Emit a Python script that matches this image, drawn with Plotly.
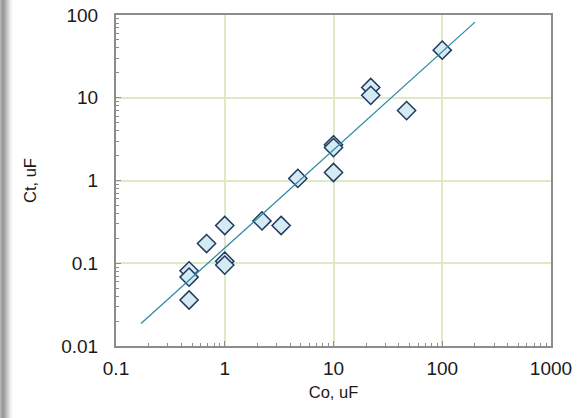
import numpy as np
import plotly.graph_objects as go

# Data
co_uF = [0.47, 0.47, 0.47, 0.68, 1.0, 1.0, 1.0, 2.2, 3.3, 4.7, 10, 10, 10, 22, 22, 47, 100]
ct_uF = [0.081, 0.068, 0.036, 0.173, 0.286, 0.106, 0.095, 0.325, 0.286, 1.06, 2.7, 2.5, 1.25, 13.3, 10.7, 7.0, 37.6]

# Power-law trendline Ct = a * Co^b, drawn over this Co span
trend_a = 0.153
trend_b = 1.186
trend_span = [0.17, 200]
tx = np.logspace(np.log10(trend_span[0]), np.log10(trend_span[1]), 60)
ty = trend_a * tx ** trend_b

x_ticks = [0.1, 1, 10, 100, 1000]
x_labels = ["0.1", "1", "10", "100", "1000"]
y_ticks = [0.01, 0.1, 1, 10, 100]
y_labels = ["0.01", "0.1", "1", "10", "100"]

def minor_vals(lo_exp, hi_exp):
    return [m * 10.0 ** e for e in range(lo_exp, hi_exp) for m in range(2, 10)]

fig = go.Figure()
fig.add_trace(go.Scatter(
    x=co_uF, y=ct_uF, mode="markers",
    marker=dict(symbol="diamond", size=14, color="#d6eaf3",
                line=dict(color="#1e3a5f", width=1.5)),
    showlegend=False, hoverinfo="skip"))
fig.add_trace(go.Scatter(
    x=tx, y=ty, mode="lines",
    line=dict(color="#2f8aa6", width=1.3),
    showlegend=False, hoverinfo="skip"))

tick_font = dict(family="Liberation Sans, Arial, sans-serif", size=19, color="#1a1a1a")
title_font = dict(family="Liberation Sans, Arial, sans-serif", size=16.5, color="#1a1a1a")
axis_common = dict(
    type="log", showline=True, linecolor="#8c8c8c", linewidth=2, mirror=True,
    showgrid=True, gridcolor="#dfe9c6", gridwidth=1.5, zeroline=False,
    ticks="inside", ticklen=5, tickcolor="#8c8c8c", tickwidth=1,
    tickfont=tick_font, automargin=False,
)
fig.update_xaxes(**axis_common, range=[-1, 3], tickmode="array", tickvals=x_ticks, ticktext=x_labels,
                 ticklabelstandoff=4,
                 minor=dict(tickmode="array", tickvals=minor_vals(-1, 3), ticks="inside",
                            ticklen=3, tickcolor="#8c8c8c", tickwidth=1, showgrid=False),
                 title=dict(text="Co, uF", font=title_font, standoff=9))
fig.update_yaxes(**axis_common, range=[-2, 2], tickmode="array", tickvals=y_ticks, ticktext=y_labels,
                 ticklabelstandoff=12,
                 minor=dict(tickmode="array", tickvals=minor_vals(-2, 2), ticks="inside",
                            ticklen=3, tickcolor="#8c8c8c", tickwidth=1, showgrid=False),
                 title=dict(text="Ct, uF", font=title_font, standoff=20))

# gray stripe at the left edge (gradient imitation)
shades = ["#b8b8b8", "#a4a4a4", "#9a9a9a", "#9c9c9c", "#a4a4a4", "#b0b0b0",
          "#bdbdbd", "#cacaca", "#d7d7d7", "#e3e3e3", "#eeeeee", "#f6f6f6", "#fbfbfb"]
pw = 584 - 116 - 33
for i, c in enumerate(shades):
    fig.add_shape(type="rect", xref="paper", yref="paper",
                  x0=(i - 116) / pw, x1=(i + 1 - 116) / pw, y0=-2, y1=2,
                  fillcolor=c, line=dict(width=0), layer="below")

fig.update_layout(
    width=584, height=418,
    margin=dict(l=116, r=33, t=15, b=72),
    paper_bgcolor="white", plot_bgcolor="white",
    font=tick_font,
)
fig.write_html("out.html")
